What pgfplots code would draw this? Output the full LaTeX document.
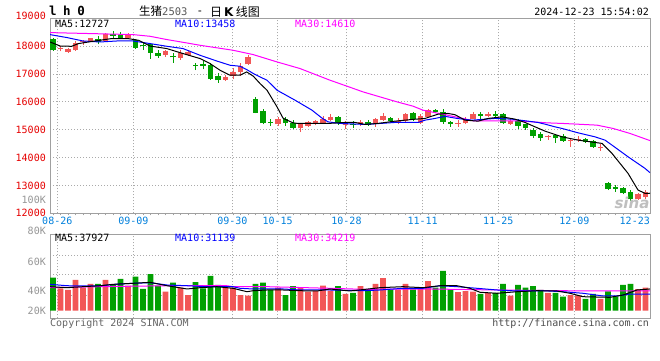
\documentclass[border=0pt]{standalone}
\usepackage{pgfplots}
\pgfplotsset{compat=1.18}
\usepackage{pgfplotstable}
\usepackage{fontspec}
\setmainfont{DejaVu Sans}
\newfontfamily\monofont{DejaVu Sans Mono}
\newfontfamily\cjk{Noto Sans CJK SC}
\definecolor{cred}{RGB}{242,86,86}
\definecolor{cgreen}{RGB}{0,160,0}
\definecolor{gridc}{RGB}{170,170,170}
\definecolor{borderc}{RGB}{160,160,160}
\definecolor{pricered}{RGB}{230,0,0}
\definecolor{dateblue}{RGB}{0,128,220}
\definecolor{ma10c}{RGB}{0,0,255}
\definecolor{ma30c}{RGB}{255,0,255}
\definecolor{volgray}{RGB}{150,150,150}

\pgfplotstableread{
i O H L C V
1 17900 17996 17816 17930 40
2 17800 17930 17770 17900 37
3 17850 18185 17835 18130 55
4 18140 18235 18030 18170 41
5 18185 18310 18170 18290 48
7 18190 18490 18170 18420 55
10 18310 18480 18300 18450 45
15 17675 17880 17620 17815 34
17 17590 17880 17520 17755 41
18 17675 17860 17650 17790 28
23 16800 16960 16750 16880 41
24 16920 17220 16815 17075 41
25 17055 17400 16940 17290 28
26 17350 17670 17330 17610 27
30 15200 15460 15140 15380 41
33 15080 15220 14915 15190 42
34 15150 15320 15110 15260 34
35 15190 15360 15160 15310 35
36 15250 15490 15200 15380 45
37 15345 15560 15300 15460 36
39 15190 15320 15040 15215 30
41 15200 15340 15150 15280 44
43 15190 15410 15105 15380 48
44 15345 15605 15320 15500 58
46 15300 15420 15200 15325 37
47 15320 15590 15260 15550 48
49 15245 15560 15200 15510 42
50 15460 15730 15440 15700 53
54 15210 15360 15100 15240 33
55 15225 15440 15200 15400 35
56 15400 15620 15380 15560 34
58 15490 15640 15440 15560 32
61 15210 15390 15170 15330 27
66 14730 14810 14640 14760 32
69 14610 14690 14390 14640 28
70 14640 14760 14560 14670 27.5
73 14360 14470 14240 14390 21
78 12500 12720 12470 12680 38.5
79 12575 12830 12500 12760 41
}\upc

\pgfplotstableread{
i O H L C V
0 18270 18290 17830 17850 59
6 18270 18350 18060 18140 48
8 18440 18530 18310 18380 46
9 18390 18510 18290 18310 57
11 18235 18270 17890 17950 61
12 18040 18115 17855 18005 39
13 18070 18090 17555 17760 65.5
14 17755 17880 17590 17650 45
16 17630 17755 17400 17595 50
19 17335 17380 17140 17300 51
20 17375 17460 17170 17290 40
21 17310 17400 16800 16815 62
22 16920 17020 16680 16775 46
27 16095 16160 15590 15605 48
28 15665 15740 15190 15225 50
29 15295 15380 15130 15260 37
31 15370 15440 15150 15225 28
32 15250 15350 15010 15080 44
38 15460 15500 15180 15225 44
40 15210 15310 15050 15180 32
42 15270 15340 15140 15175 37
45 15410 15460 15270 15310 37
48 15585 15620 15320 15370 38
51 15700 15760 15590 15630 41
52 15650 15730 15220 15280 71
53 15260 15320 15105 15200 38
57 15560 15620 15390 15490 30
59 15580 15690 15420 15500 32
60 15550 15600 15200 15230 48
62 15330 15370 15020 15140 46
63 15190 15220 15000 15070 41
64 14985 15070 14700 14780 44
65 14855 14925 14600 14710 37
67 14810 14860 14530 14690 32
68 14770 14830 14570 14600 25
71 14650 14720 14520 14570 21
72 14590 14640 14340 14390 30
74 13075 13110 12830 12870 34.5
75 12955 13000 12780 12880 25
76 12895 12930 12680 12715 46
77 12775 12835 12430 12500 48
}\downc

\begin{document}
\begin{tikzpicture}[x=1bp,y=1bp]
\fill[white] (0,0) rectangle (660,360);
\path[use as bounding box] (0,0) rectangle (660,360);

% ---------------- price panel ----------------
\begin{axis}[
  at={(50bp,146.7bp)}, anchor=south west, scale only axis,
  width=600bp, height=195bp,
  xmin=-0.4, xmax=79.6, ymin=12000, ymax=19000,
  scaled y ticks=false, scaled x ticks=false,
  axis line style={draw=borderc, line width=1bp},
  ytick={12000,13000,14000,15000,16000,17000,18000,19000},
  yticklabels={12000,13000,14000,15000,16000,17000,18000,{}},
  xtick={0.573,10.71,23.91,29.96,39.13,49.29,59.37,69.51},
  xticklabels={08-26,09-09,09-30,10-15,10-28,11-11,11-25,12-09},
  extra x ticks={79.6}, extra x tick labels={12-23},
  extra x tick style={grid=none, xticklabel style={anchor=north east}},
  major tick length=0pt,
  minor xtick={0,1,...,79}, minor tick length=2bp, tick align=outside,
  xtick pos=bottom, ytick pos=left,
  minor tick style={draw=borderc, line width=0.6bp},
  grid=major, grid style={draw=gridc, line width=0.9bp, dash pattern=on 1bp off 2bp},
  tick label style={font=\monofont\fontsize{10bp}{10bp}\selectfont},
  yticklabel style={text=pricered, inner sep=0pt, xshift=-4bp},
  xticklabel style={text=dateblue, inner sep=0pt, yshift=-3.5bp},
]
% wicks
\addplot[draw=none, mark=none, forget plot, error bars/.cd, y dir=plus, y explicit, error mark=none,
  error bar style={draw=cred, line width=1bp}]
  table[x=i, y=L, y error plus expr=\thisrow{H}-\thisrow{L}] {\upc};
\addplot[draw=none, mark=none, forget plot, error bars/.cd, y dir=plus, y explicit, error mark=none,
  error bar style={draw=cgreen, line width=1bp}]
  table[x=i, y=L, y error plus expr=\thisrow{H}-\thisrow{L}] {\downc};
% bodies
\addplot[draw=none, mark=none, forget plot, error bars/.cd, y dir=plus, y explicit, error mark=none,
  error bar style={draw=cred, line width=5.8bp}]
  table[x=i, y=O, y error plus expr=\thisrow{C}-\thisrow{O}] {\upc};
\addplot[draw=none, mark=none, forget plot, error bars/.cd, y dir=plus, y explicit, error mark=none,
  error bar style={draw=cgreen, line width=5.8bp}]
  table[x=i, y=C, y error plus expr=\thisrow{O}-\thisrow{C}] {\downc};
% MA30
\addplot[ma30c, line width=1bp, mark=none] coordinates {
(-0.4,18487) (10.67,18415) (12.93,18355) (15.2,18236) (17.87,18114) (19.6,18032) (24,17853)
(26.67,17699) (29.87,17434) (32.93,17197) (36.93,16778) (39.2,16563) (41.33,16359) (43.6,16179)
(45.87,16000) (48,15846) (49.33,15702) (51.6,15577) (54.67,15405) (56,15319) (61.87,15319)
(65.87,15247) (68,15225) (72.53,15165) (74.67,15046) (76.93,14867) (79.6,14610)};
% MA10
\addplot[ma10c, line width=1bp, mark=none] coordinates {
(-0.4,18415) (1.87,18308) (4,18186) (6.27,18150) (8.53,18186) (10.67,18186) (12.93,18093)
(15.16,17996) (17.33,17914) (19.6,17673) (21.82,17469) (23.6,17315) (24.93,17279) (25.82,17161)
(26.71,17018) (27.6,16896) (28.53,16778) (29.87,16419) (32.27,16061) (34.53,15702) (35.87,15416)
(36.67,15283) (38.27,15226) (41.6,15190) (45.6,15261) (48.67,15261) (49.6,15344) (50.93,15405)
(52.27,15480) (54,15400) (55.87,15344) (58.93,15405) (61.2,15380) (63.33,15308) (64.67,15261)
(65.6,15200) (66.93,15104) (67.87,15046) (70,14889) (72.27,14745) (73.6,14627) (74.53,14448)
(76.67,14029) (78.93,13613) (79.6,13458)};
% MA5
\addplot[black, line width=1bp, mark=none] coordinates {
(-0.4,18150) (1,18000) (2.5,17996) (3.4,18093) (5.6,18186) (7.8,18272) (10,18272) (11.4,18211)
(12.93,18004) (15.16,17914) (17.33,17735) (19.6,17555) (20.93,17376) (22.27,17136) (23.6,16956)
(24.93,16956) (25.82,17075) (26.71,16921) (27.6,16659) (28.53,16420) (29.87,15821) (30.67,15416)
(31.2,15345) (32,15247) (32.67,15226) (36.67,15226) (38.93,15261) (40.27,15261) (41.6,15190)
(43.33,15226) (45.6,15308) (47.87,15369) (49.6,15405) (51.33,15559) (52.67,15584) (53.6,15540)
(54.93,15344) (56.67,15308) (58,15405) (59.87,15462) (61.6,15380) (62.93,15261) (64.27,15104)
(65.6,14950) (66.93,14831) (67.87,14745) (70,14627) (73.2,14509) (74.53,14150) (76.67,13434)
(78,12835) (78.93,12717) (79.6,12720)};
\end{axis}

% ---------------- volume panel ----------------
\begin{axis}[
  at={(50bp,41.7bp)}, anchor=south west, scale only axis,
  width=600bp, height=84.3bp,
  xmin=-0.4, xmax=79.6, ymin=-13.57, ymax=136.96,
  scaled y ticks=false,
  axis line style={draw=borderc, line width=1bp},
  xtick={0.573,10.71,23.91,29.96,39.13,49.29,59.37,69.51}, xticklabels={},
  ytick={28.0,63.9,99.5}, yticklabels={},
  major tick length=0pt,
  grid=major, grid style={draw=gridc, line width=0.9bp, dash pattern=on 1bp off 2bp},
]
\addplot[ybar, bar width=5.8bp, bar shift=0pt, fill=cred, draw=none] table[x=i, y=V] {\upc};
\addplot[ybar, bar width=5.8bp, bar shift=0pt, fill=cgreen, draw=none] table[x=i, y=V] {\downc};
% vol MA30
\addplot[ma30c, line width=1bp, mark=none] coordinates {
(-0.4,41.1) (6.27,42.9) (15.2,44.6) (23.2,44.6) (24,42.9) (28.53,42.9) (36.93,40) (41.33,38.2)
(50.27,38.8) (59.2,37) (68,35.7) (72.53,35.2) (79.6,35.2)};
% vol MA10
\addplot[ma10c, line width=1bp, mark=none] coordinates {
(-0.4,47.1) (1.87,44.6) (4.53,44.1) (6.27,44.6) (8.93,47.7) (10.67,48.9) (12.93,50) (15.2,45.9)
(17.87,44.6) (20.53,42.9) (24,42.9) (24.93,40) (26.67,38.8) (30.67,38.8) (32.93,37) (35.6,37)
(36.93,37) (41.33,35.7) (43.6,37) (46.67,40) (49.33,40) (51.6,44.6) (53.87,42.9) (56.53,40)
(59.2,37) (61.87,35.2) (65.33,35.7) (68,33.9) (70.67,31.1) (73.33,26.3) (75.2,26.3) (76.93,29.8)
(79.6,29.8)};
% vol MA5
\addplot[black, line width=1bp, mark=none] coordinates {
(-0.4,42.9) (1.87,41.1) (4,42.9) (6.27,44.6) (8,47.1) (10.67,48.9) (12.93,50.7) (15.2,44.6)
(16,42.9) (17.87,38.8) (19.6,41.1) (21.87,42.9) (24,40) (25.87,33.9) (26.67,35.7) (28.53,37)
(30.67,37) (32.93,35.7) (35.2,35.2) (36.93,38.8) (39.6,35.2) (43.6,41.1) (46.67,42.9) (49.33,41.1)
(51.6,44.6) (53.87,44.6) (55.6,40) (56.93,32.9) (59.2,31.1) (61.87,33.9) (64.53,35.7) (67.2,35.2)
(68.93,31.1) (70.67,25) (74.27,23.9) (76,28) (77.87,37) (79.6,38.8)};
\end{axis}

% ---------------- texts ----------------
\node[anchor=east, inner sep=0pt, text=pricered, font=\monofont\fontsize{10bp}{10bp}\selectfont] at (46,344.5) {19000};
\node[anchor=west, inner sep=0pt, font=\monofont\bfseries\fontsize{12.5bp}{12.5bp}\selectfont] at (49,349.5) {l\kern-1bp\ h\kern-1bp\ 0};
\node[anchor=west, inner sep=0pt] at (139,348.5)
  {{\cjk\fontsize{11.5bp}{11.5bp}\selectfont 生猪}{\monofont\fontsize{10.5bp}{10.5bp}\selectfont\color{black!65}2503}};
\node[inner sep=0pt, font=\monofont\fontsize{11bp}{11bp}\selectfont] at (200,346.8) {-};
\node[anchor=east, inner sep=0pt, font=\fontsize{12bp}{12bp}\selectfont] at (260,348.5)
  {{\cjk 日}\,\textbf{K}\,{\cjk 线图}};
\node[anchor=east, inner sep=0pt, font=\monofont\fontsize{10bp}{10bp}\selectfont] at (649,348) {2024-12-23 15:54:02};

\begin{scope}[every node/.style={anchor=west, inner sep=0pt, font=\monofont\fontsize{10bp}{10bp}\selectfont}]
\node[text=black] at (55,336) {MA5:12727};
\node[text=ma10c] at (175,336) {MA10:13458};
\node[text=ma30c] at (295,336) {MA30:14610};
\node[text=black] at (55,122.2) {MA5:37927};
\node[text=ma10c] at (175,122.2) {MA10:31139};
\node[text=ma30c] at (295,122.2) {MA30:34219};
\node[text=black!60] at (50,36.5) {Copyright 2024 SINA.COM};
\end{scope}
\node[anchor=east, inner sep=0pt, text=black!70, font=\monofont\fontsize{10bp}{10bp}\selectfont] at (649,36.5) {http://finance.sina.com.cn};

\begin{scope}[every node/.style={anchor=east, inner sep=0pt, text=volgray, font=\monofont\fontsize{10bp}{10bp}\selectfont}]
\node at (46,160) {100K};
\node at (46,129) {80K};
\node at (46,98.3) {60K};
\node at (46,69.3) {40K};
\node at (46,49.3) {20K};
\end{scope}

\node[text=black!25, font=\bfseries\itshape\fontsize{15bp}{15bp}\selectfont, inner sep=0pt] at (632,157) {sina};
\end{tikzpicture}
\end{document}
